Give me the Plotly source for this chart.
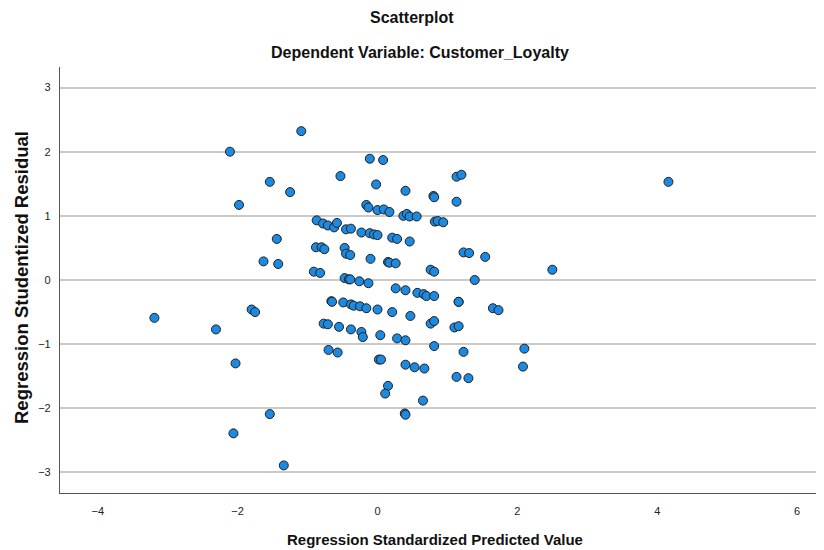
import plotly.graph_objects as go

# Regression standardized predicted value (x) and studentized residual (y)
pred = [
    -2.11, -1.54, -1.25, -1.98, -1.44, -1.63, -1.42,
    -3.19, -1.80, -1.75, -2.31, -2.03, -1.54, -2.06, -1.34,
    -1.09, -0.11, 0.08, -0.53, -0.02, 0.40, 0.80, 0.81,
    1.13, 1.20, 1.13, -0.16, -0.13, 0.00, 0.09, 0.17, 0.37, 0.42, 0.46, 0.56,
    0.82, 0.86, 0.94, -0.87, -0.78, -0.71, -0.62, -0.58, -0.45, -0.38,
    -0.23, -0.11, -0.05, 0.00, 0.21, 0.28, 0.46,
    -0.88, -0.80, -0.76, -0.47, -0.45, -0.39, -0.10, 0.15, 0.17, 0.26,
    0.76, 0.81, -0.91, -0.82,
    -0.47, -0.41, -0.39, -0.26, -0.13,
    0.26, 0.40, 0.57, 0.66, 0.70, 0.81, 1.16,
    -0.66, -0.65, -0.49, -0.38, -0.34, -0.25, -0.16, 0.00, 0.21, 0.47,
    0.76, 0.81, 1.10, 1.16,
    -0.77, -0.71, -0.55, -0.38, -0.23, -0.21, 0.04, 0.28, 0.40, 0.81,
    -0.70, -0.57, 0.02, 0.05, 0.40, 0.53, 0.67, 1.13, 1.30,
    0.15, 0.11, 0.65, 0.39, 0.40,
    1.23, 1.31, 1.54, 2.50, 1.39, 1.16, 1.65, 1.73,
    1.23, 2.10, 2.08, 4.16,
]
resid = [
    2.00, 1.53, 1.37, 1.17, 0.64, 0.29, 0.25,
    -0.59, -0.46, -0.50, -0.77, -1.30, -2.09, -2.39, -2.89,
    2.32, 1.89, 1.87, 1.62, 1.49, 1.39, 1.31, 1.29,
    1.61, 1.64, 1.22, 1.17, 1.13, 1.09, 1.10, 1.06, 1.00, 1.03, 0.99, 0.99,
    0.91, 0.92, 0.90, 0.93, 0.88, 0.85, 0.82, 0.89, 0.79, 0.80,
    0.74, 0.73, 0.71, 0.70, 0.66, 0.64, 0.60,
    0.51, 0.51, 0.48, 0.50, 0.41, 0.39, 0.33, 0.28, 0.27, 0.26,
    0.16, 0.13, 0.13, 0.11,
    0.03, 0.01, 0.01, -0.02, -0.05,
    -0.13, -0.16, -0.20, -0.22, -0.25, -0.25, -0.34,
    -0.33, -0.34, -0.35, -0.38, -0.40, -0.41, -0.44, -0.46, -0.50, -0.56,
    -0.68, -0.64, -0.74, -0.72,
    -0.68, -0.69, -0.73, -0.77, -0.81, -0.89, -0.86, -0.91, -0.94, -1.03,
    -1.09, -1.13, -1.24, -1.24, -1.32, -1.36, -1.38, -1.51, -1.53,
    -1.65, -1.77, -1.88, -2.08, -2.10,
    0.43, 0.42, 0.36, 0.16, 0.00, -0.34, -0.44, -0.47,
    -1.12, -1.07, -1.35, 1.53,
]

x_ticks = [-4, -2, 0, 2, 4, 6]
y_ticks = [-3, -2, -1, 0, 1, 2, 3]

title_text = "Scatterplot"
subtitle_text = "Dependent Variable: Customer_Loyalty"
x_title = "Regression Standardized Predicted Value"
y_title = "Regression Studentized Residual"

FONT = "Liberation Sans, Arial, sans-serif"
OFF = 8  # page body margin offset
W, H = 824 - OFF, 550 - OFF
L, T = 60 - OFF, 67 - OFF
R = W - (816 - OFF)
B = H - (493 - OFF)
PW, PH = W - L - R, H - T - B


def px_x(px):
    return (px - OFF - L) / PW


def px_y(py):
    return 1 - (py - OFF - T) / PH


fig = go.Figure(
    go.Scatter(
        x=pred, y=resid, mode="markers",
        marker=dict(size=9, color="rgb(28,138,224)",
                    line=dict(color="#1f1f1f", width=1)),
        hoverinfo="x+y",
    )
)

fig.update_layout(
    width=W, height=H,
    margin=dict(l=L, r=R, t=T, b=B, autoexpand=False),
    paper_bgcolor="white", plot_bgcolor="white",
    showlegend=False,
    font=dict(family=FONT, color="#111"),
    annotations=[
        dict(text="<b>" + title_text + "</b>", x=px_x(412), y=px_y(17),
             xref="paper", yref="paper", showarrow=False, yanchor="middle",
             font=dict(size=16, family=FONT, color="#111")),
        dict(text="<b>" + subtitle_text + "</b>", x=px_x(420), y=px_y(52),
             xref="paper", yref="paper", showarrow=False, yanchor="middle",
             font=dict(size=16, family=FONT, color="#111")),
        dict(text="<b>" + x_title + "</b>", x=px_x(435), y=px_y(539),
             xref="paper", yref="paper", showarrow=False, yanchor="middle",
             font=dict(size=15, family=FONT, color="#111")),
        dict(text="<b>" + y_title + "</b>", x=px_x(21), y=px_y(278),
             xref="paper", yref="paper", showarrow=False, textangle=-90,
             xanchor="center", yanchor="middle",
             font=dict(size=18.5, family=FONT, color="#111")),
    ],
)

fig.update_xaxes(
    range=[-4.54, 6.27], tickvals=x_ticks,
    showgrid=False, zeroline=False, automargin=False,
    showline=True, linecolor="#555", linewidth=1.2,
    ticks="", tickfont=dict(size=11, family=FONT, color="#222"),
    ticklabelstandoff=8,
)
fig.update_yaxes(
    range=[-3.32, 3.32], tickvals=y_ticks,
    showgrid=True, gridcolor="#cacaca", gridwidth=1.5,
    zeroline=False, automargin=False,
    showline=True, linecolor="#555", linewidth=1.2,
    ticks="", tickfont=dict(size=11, family=FONT, color="#222"),
    ticklabelstandoff=6,
)

fig.write_html("out.html")
